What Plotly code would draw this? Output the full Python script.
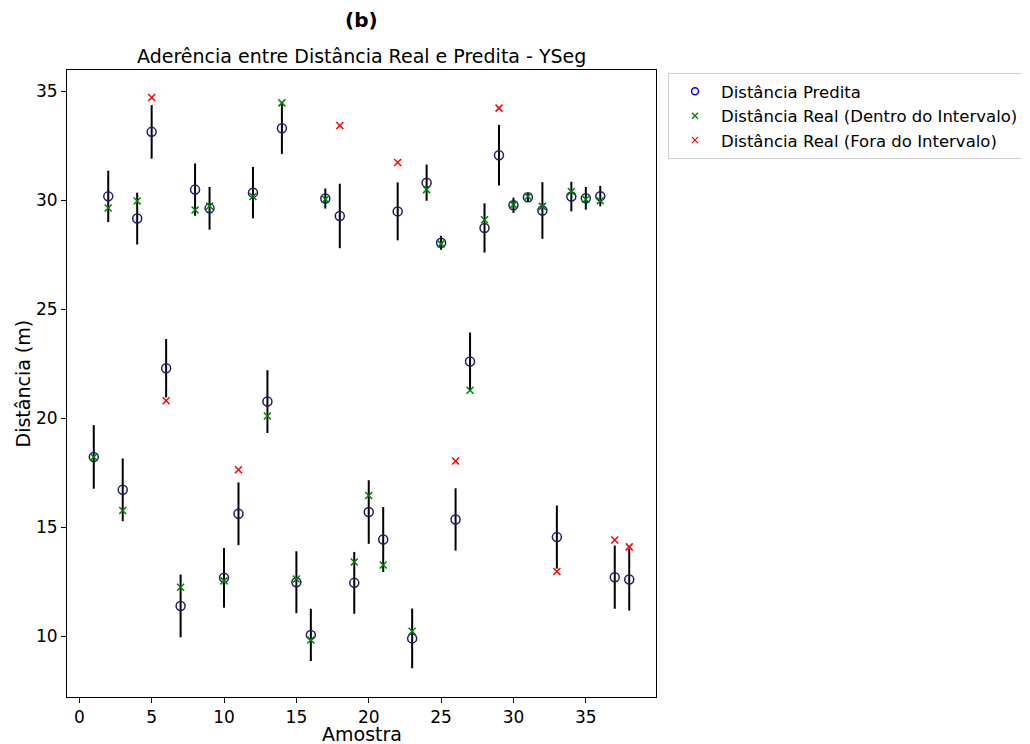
import plotly.graph_objects as go

amostra = list(range(1, 39))
pred = [18.22, 30.18, 16.71, 29.16, 33.14, 22.29, 11.38, 30.49, 29.63, 12.67,
        15.61, 30.35, 20.76, 33.31, 12.47, 10.05, 30.08, 29.28, 12.44, 15.69,
        14.43, 29.49, 9.89, 30.81, 28.05, 15.35, 22.60, 28.73, 32.07, 29.77,
        30.14, 29.53, 14.54, 30.17, 30.09, 30.19, 12.70, 12.59]
erro = [1.46, 1.18, 1.44, 1.19, 1.23, 1.34, 1.44, 1.20, 0.98, 1.37,
        1.44, 1.18, 1.44, 1.18, 1.42, 1.20, 0.46, 1.48, 1.42, 1.46,
        1.49, 1.33, 1.37, 0.83, 0.32, 1.43, 1.33, 1.13, 1.39, 0.35,
        0.18, 1.30, 1.45, 0.68, 0.52, 0.47, 1.45, 1.42]
real = [18.22, 29.65, 15.76, 29.97, 34.72, 20.80, 12.24, 29.55, 29.74, 12.53,
        17.63, 30.17, 20.10, 34.47, 12.62, 9.82, 30.05, 33.43, 13.40, 16.45,
        13.26, 31.73, 10.22, 30.49, 28.00, 18.03, 21.28, 29.11, 34.23, 29.80,
        30.17, 29.72, 12.96, 30.40, 30.05, 29.98, 14.41, 14.09]
fora = [5, 6, 11, 18, 22, 26, 29, 33, 37, 38]

x_in = [a for a in amostra if a not in fora]
y_in = [real[a - 1] for a in x_in]
x_out = [a for a in amostra if a in fora]
y_out = [real[a - 1] for a in x_out]

FONT = "DejaVu Sans"
fig = go.Figure()

fig.add_trace(go.Scatter(
    x=amostra, y=pred, mode="markers", showlegend=False,
    marker=dict(symbol="circle-open", size=9, color="#1c1c6a", line=dict(width=1.5)),
    error_y=dict(type="data", array=erro, visible=True, color="black",
                 thickness=2, width=0),
))
fig.add_trace(go.Scatter(
    x=x_in, y=y_in, mode="markers", showlegend=False,
    marker=dict(symbol="x-thin-open", size=7, color="green", line=dict(width=1.5, color="green")),
))
fig.add_trace(go.Scatter(
    x=x_out, y=y_out, mode="markers", showlegend=False,
    marker=dict(symbol="x-thin-open", size=7, color="red", line=dict(width=1.5, color="red")),
))

# legend entries
fig.add_trace(go.Scatter(x=[None], y=[None], mode="markers", name="Distância Predita",
                         marker=dict(symbol="circle-open", size=7, color="blue", line=dict(width=1.5))))
fig.add_trace(go.Scatter(x=[None], y=[None], mode="markers", name="Distância Real (Dentro do Intervalo)",
                         marker=dict(symbol="x-thin-open", size=6, color="green", line=dict(width=1.3, color="green"))))
fig.add_trace(go.Scatter(x=[None], y=[None], mode="markers", name="Distância Real (Fora do Intervalo)",
                         marker=dict(symbol="x-thin-open", size=6, color="red", line=dict(width=1.3, color="red"))))

axis_common = dict(showgrid=False, zeroline=False, showline=True, linecolor="black",
                   linewidth=1, mirror=True, ticks="outside", ticklen=5, tickcolor="black",
                   tickfont=dict(family=FONT, size=17, color="black"))

fig.update_xaxes(range=[-0.85, 39.85], tickvals=[0, 5, 10, 15, 20, 25, 30, 35],
                 domain=[0, 589 / 959], **axis_common)
fig.update_yaxes(range=[7.2, 35.98], tickvals=[10, 15, 20, 25, 30, 35], **axis_common)

fig.update_layout(
    width=1022, height=736,
    margin=dict(l=59, r=4, t=62, b=47),
    paper_bgcolor="white", plot_bgcolor="white",
    font=dict(family=FONT, color="black"),
    legend=dict(x=601 / 959, y=0.9952, xanchor="left", yanchor="top",
                bordercolor="#d0d0d0", borderwidth=1,
                font=dict(family=FONT, size=16.5, color="black"),
                itemsizing="trace", itemwidth=42, tracegroupgap=0),
    annotations=[
        dict(text="<b>(b)</b>", x=0.5, y=1.0797, xref="x domain", yref="paper",
             xanchor="center", yanchor="middle", showarrow=False,
             font=dict(family=FONT, size=20, color="black")),
        dict(text="Aderência entre Distância Real e Predita - YSeg", x=0.5, y=1.0223,
             xref="x domain", yref="paper", xanchor="center", yanchor="middle",
             showarrow=False, font=dict(family=FONT, size=19, color="black")),
        dict(text="Amostra", x=0.5, y=-0.059, xref="x domain", yref="paper",
             xanchor="center", yanchor="middle", showarrow=False,
             font=dict(family=FONT, size=19, color="black")),
        dict(text="Distância (m)", x=-0.0764, y=0.5, xref="x domain", yref="paper",
             xanchor="center", yanchor="middle", showarrow=False, textangle=-90,
             font=dict(family=FONT, size=19, color="black")),
    ],
)

fig.write_html("out.html")
